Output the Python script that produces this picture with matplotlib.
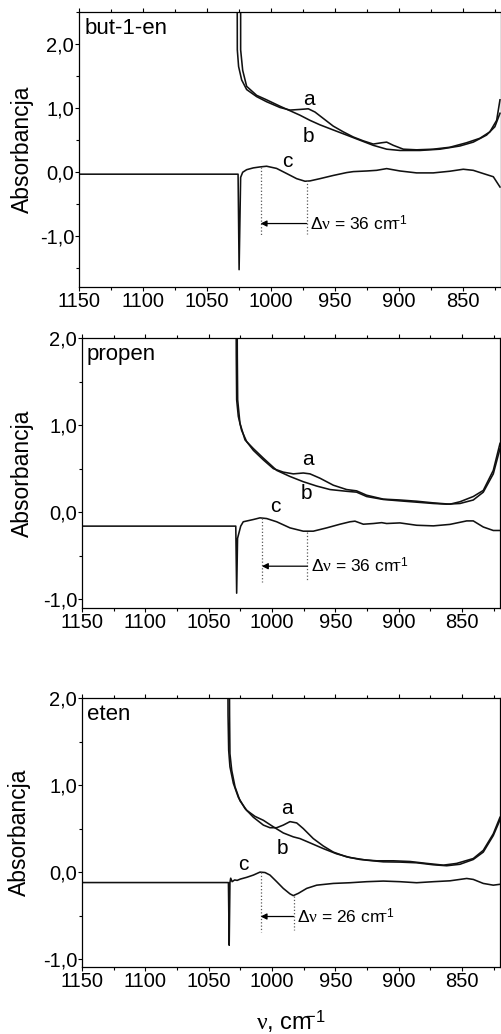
import matplotlib
matplotlib.use('Agg')
import matplotlib.pyplot as plt
from matplotlib.ticker import MultipleLocator, FuncFormatter

plt.rcParams['font.family'] = ['Liberation Sans', 'DejaVu Sans']
plt.rcParams['mathtext.fontset'] = 'custom'
plt.rcParams['mathtext.rm'] = 'Liberation Sans'
plt.rcParams['mathtext.it'] = 'Liberation Serif'
plt.rcParams['mathtext.sf'] = 'Liberation Sans'

# --- but-1-en ---
but_a_wn = [1026.3, 1026.2, 1025.2, 1022.8, 1018.9, 1011.1, 1003.3, 992.8, 985.0, 977.2, 970.7, 965.5,
            959.0, 951.2, 943.3, 935.5, 927.7, 919.9, 913.4, 909.4, 904.2, 896.4, 886.0, 873.0, 860.0,
            847.0, 836.5, 828.7, 823.4, 820.8]
but_a_abs = [3.0, 1.91, 1.65, 1.44, 1.29, 1.18, 1.10, 1.01, 0.97, 0.98, 0.99, 0.94,
             0.84, 0.72, 0.63, 0.55, 0.49, 0.44, 0.46, 0.47, 0.42, 0.36, 0.35, 0.36, 0.39,
             0.46, 0.53, 0.63, 0.81, 1.13]
but_b_wn = [1023.6, 1023.6, 1022.0, 1018.9, 1011.1, 1003.3, 992.8, 985.0, 977.2, 969.4, 961.6, 951.2,
            940.7, 930.3, 919.9, 909.4, 899.0, 883.4, 867.7, 852.1, 841.7, 831.3, 824.8, 820.8]
but_b_abs = [3.0, 1.91, 1.59, 1.34, 1.20, 1.13, 1.03, 0.96, 0.89, 0.81, 0.74, 0.66,
             0.58, 0.50, 0.42, 0.36, 0.34, 0.34, 0.36, 0.41, 0.47, 0.58, 0.71, 0.92]
but_c_wn = [1150, 1025.6, 1024.8, 1023.6, 1022.0, 1018.9, 1013.7, 1008.5, 1003.3, 995.5, 987.6, 979.8,
            973.3, 969.4, 961.6, 951.2, 940.7, 935.5, 924.9, 917.3, 909.4, 899.0, 886.0, 873.0,
            860.0, 849.5, 841.7, 833.9, 826.0, 820.8]
but_c_abs = [-0.03, -0.03, -1.52, -0.08, 0.0, 0.04, 0.068, 0.083, 0.094, 0.06, -0.02, -0.10,
             -0.14, -0.135, -0.10, -0.05, -0.005, 0.01, 0.02, 0.03, 0.057, 0.02, -0.01, -0.01,
             0.016, 0.047, 0.03, -0.02, -0.07, -0.23]

# --- propen ---
pro_a_wn = [1028.4, 1028.2, 1027.9, 1026.6, 1024.0, 1020.0, 1014.7, 1006.8, 998.9, 991.1, 983.2, 975.3,
            970.0, 962.1, 951.6, 941.1, 933.2, 925.3, 912.1, 899.0, 885.8, 872.6, 859.5, 851.6,
            841.1, 833.2, 825.3, 820.0]
pro_a_abs = [2.6, 1.8, 1.29, 1.10, 0.94, 0.81, 0.71, 0.60, 0.50, 0.46, 0.44, 0.45,
             0.44, 0.39, 0.31, 0.26, 0.245, 0.195, 0.15, 0.14, 0.126, 0.107, 0.092, 0.12,
             0.18, 0.25, 0.48, 0.79]
pro_b_wn = [1027.6, 1027.4, 1027.1, 1025.3, 1021.3, 1014.7, 1006.8, 996.3, 985.8, 975.3, 964.7, 954.2,
            941.1, 933.2, 925.3, 912.1, 899.0, 885.8, 872.6, 862.1, 851.6, 841.1, 833.2, 825.3, 820.0]
pro_b_abs = [2.6, 1.8, 1.29, 1.02, 0.83, 0.73, 0.62, 0.48, 0.41, 0.35, 0.30, 0.26,
             0.24, 0.23, 0.18, 0.146, 0.13, 0.115, 0.10, 0.092, 0.10, 0.14, 0.23, 0.44, 0.73]
pro_c_wn = [1150, 1028.6, 1027.9, 1027.2, 1024.7, 1022.7, 1014.7, 1009.5, 1004.2, 996.3, 985.8, 975.3,
            967.4, 956.8, 946.3, 938.4, 934.5, 927.9, 920.0, 913.4, 909.5, 899.0, 885.8, 872.6,
            859.5, 846.3, 841.1, 833.2, 825.3, 820.0]
pro_c_abs = [-0.16, -0.16, -0.93, -0.30, -0.16, -0.11, -0.084, -0.065, -0.073, -0.11, -0.18, -0.218,
             -0.218, -0.18, -0.138, -0.11, -0.103, -0.138, -0.13, -0.12, -0.13, -0.123, -0.15, -0.157,
             -0.14, -0.10, -0.10, -0.17, -0.21, -0.21]

# --- eten ---
ete_a_wn = [1034.9, 1034.7, 1034.2, 1033.2, 1030.5, 1026.6, 1021.3, 1014.7, 1006.8, 1001.6, 996.3, 991.1,
            985.8, 980.5, 975.3, 967.4, 959.5, 951.6, 941.1, 930.5, 917.4, 904.2, 891.1, 877.9,
            864.7, 854.2, 841.1, 833.2, 825.3, 820.0]
ete_a_abs = [2.6, 1.8, 1.40, 1.21, 1.02, 0.86, 0.73, 0.63, 0.54, 0.51, 0.51, 0.54,
             0.58, 0.565, 0.50, 0.385, 0.30, 0.23, 0.175, 0.145, 0.13, 0.13, 0.122, 0.10,
             0.08, 0.10, 0.156, 0.25, 0.44, 0.63]
ete_b_wn = [1033.7, 1033.5, 1033.2, 1031.8, 1029.2, 1025.3, 1020.0, 1013.4, 1006.8, 998.9, 991.1, 983.2,
            977.9, 970.0, 959.5, 949.0, 938.4, 925.3, 912.1, 899.0, 885.8, 872.6, 862.1, 851.6,
            841.1, 833.2, 825.3, 820.0]
ete_b_abs = [2.6, 1.8, 1.36, 1.17, 0.98, 0.82, 0.71, 0.64, 0.595, 0.52, 0.45, 0.405,
             0.385, 0.336, 0.27, 0.21, 0.168, 0.137, 0.118, 0.115, 0.107, 0.084, 0.073, 0.09,
             0.145, 0.23, 0.42, 0.60]
ete_c_wn = [1150, 1034.4, 1033.8, 1033.2, 1032.6, 1031.5, 1029.5, 1027.5, 1025.0, 1020.0, 1014.7, 1009.5,
            1005.5, 1001.6, 996.3, 991.1, 985.8, 983.2, 979.2, 972.6, 964.7, 951.6, 938.4, 925.3,
            912.1, 899.0, 885.8, 872.6, 859.5, 846.3, 841.1, 833.2, 825.3, 820.0]
ete_c_abs = [-0.12, -0.12, -0.84, -0.12, -0.07, -0.11, -0.09, -0.095, -0.08, -0.06, -0.034, 0.0,
             -0.005, -0.034, -0.11, -0.187, -0.25, -0.27, -0.244, -0.187, -0.15, -0.13, -0.122, -0.11,
             -0.103, -0.11, -0.122, -0.11, -0.10, -0.073, -0.084, -0.13, -0.15, -0.14]

# band positions (cm-1) for the shift markers
but_shift = (1008, 972)
pro_shift = (1008, 972)
ete_shift = (1009, 983)


def comma_fmt(v, pos):
    return ('%.1f' % v).replace('.', ',')


def draw_panel(ax, name, a, b, c, shift, ylim, lab_pos, shift_y, top_c):
    for wn, ab in (a, b, c):
        ax.plot(wn, ab, color='#111111', lw=1.15)
    ax.set_xlim(1150, 820)
    ax.set_ylim(*ylim)
    ax.xaxis.set_major_locator(MultipleLocator(50))
    ax.xaxis.set_minor_locator(MultipleLocator(25))
    ax.yaxis.set_major_locator(MultipleLocator(1))
    ax.yaxis.set_minor_locator(MultipleLocator(0.5))
    ax.yaxis.set_major_formatter(FuncFormatter(comma_fmt))
    ax.tick_params(which='both', direction='out', labelsize=14.5, pad=0.5, top=True)
    ax.tick_params(which='major', length=3, width=0.8)
    ax.tick_params(which='minor', length=2, width=0.8)
    for s in ax.spines.values():
        s.set_linewidth(0.9)
    ax.text(0.012, 0.94, name, transform=ax.transAxes, ha='left', va='center', fontsize=16)
    for lab, (x, y) in zip('abc', lab_pos):
        ax.text(x, y, lab, ha='center', va='center', fontsize=15)
    hi, lo = shift
    ax.plot([hi, hi], [top_c[0], shift_y - 0.18], ls=':', color='0.35', lw=0.9)
    ax.plot([lo, lo], [top_c[1], shift_y - 0.16], ls=':', color='0.35', lw=0.9)
    ax.annotate('', xy=(hi, shift_y), xytext=(lo, shift_y),
                arrowprops=dict(arrowstyle='-|>', color='k', lw=0.9, mutation_scale=9,
                                shrinkA=0, shrinkB=0))
    ax.text(lo - 2.5, shift_y, r'$\Delta\nu$ = %d cm$\!\!^{-1}$' % (hi - lo),
            ha='left', va='center', fontsize=12.5)
    ax.set_ylabel('Absorbancja', fontsize=16.5, va='center')


fig = plt.figure(figsize=(5.01, 10.34), dpi=100)
ax1 = fig.add_axes([79 / 501, 747 / 1034, 422 / 501, 275 / 1034])
ax2 = fig.add_axes([82 / 501, 426 / 1034, 418 / 501, 270 / 1034])
ax3 = fig.add_axes([82 / 501, 67 / 1034, 418 / 501, 269 / 1034])

draw_panel(ax1, 'but-1-en', (but_a_wn, but_a_abs), (but_b_wn, but_b_abs), (but_c_wn, but_c_abs),
           but_shift, (-1.79, 2.5), [(970, 1.135), (970.7, 0.55), (987, 0.17)], -0.80,
           (0.08, -0.125))
draw_panel(ax2, 'propen', (pro_a_wn, pro_a_abs), (pro_b_wn, pro_b_abs), (pro_c_wn, pro_c_abs),
           pro_shift, (-1.1, 2.0), [(971.3, 0.60), (973.2, 0.21), (997.6, 0.06)], -0.62,
           (-0.07, -0.23))
draw_panel(ax3, 'eten', (ete_a_wn, ete_a_abs), (ete_b_wn, ete_b_abs), (ete_c_wn, ete_c_abs),
           ete_shift, (-1.09, 2.0), [(987.9, 0.73), (991.6, 0.27), (1022.6, 0.09)], -0.51,
           (0.0, -0.28))

ax1.yaxis.set_label_coords((22 - 79) / 422, 0.5)
ax2.yaxis.set_label_coords((22 - 82) / 418, 0.5)
ax3.yaxis.set_label_coords((19 - 82) / 418, 0.5)

ax3.set_xlabel(r'$\nu$, cm$\!\!^{-1}$', fontsize=17, va='center')
ax3.xaxis.set_label_coords(0.5, (967 - 1022) / 269)

fig.savefig('out.png', dpi=100)
